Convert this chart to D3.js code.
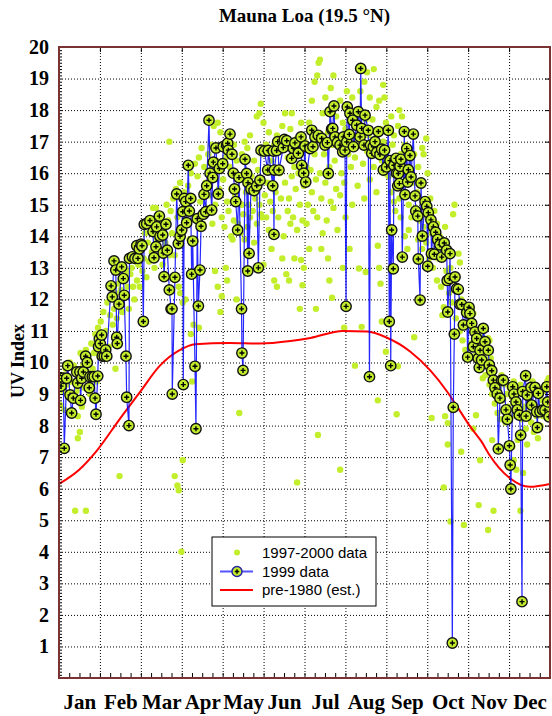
<!DOCTYPE html>
<html>
<head>
<meta charset="utf-8">
<script src="https://cdn.jsdelivr.net/npm/d3@7"></script>
<style>
  body { margin: 0; background: #fff; }
  svg { display: block; }
  .grid line { stroke: #000; stroke-dasharray: 1,2; }
  .grid path { display: none; }
</style>
</head>
<body>
<svg width="552" height="716"></svg>
<script>
// month names and y tick labels
var months = ['Jan','Feb','Mar','Apr','May','Jun','Jul','Aug','Sep','Oct','Nov','Dec'];
var yTicks = [1,2,3,4,5,6,7,8,9,10,11,12,13,14,15,16,17,18,19,20];

// 1997-2000 daily UV index maxima [day of year, UV index]
var data9700 = [
  [1,8.65],[2,9.6],[3,9.1],[4,8.5],[5,9.8],[6,9.3],[7,8.9],[8,10.0],[9,9.4],[10,9.0],[11,9.9],[12,8.8],[12,5.3],[13,9.1],[14,7.6],[14,8.3],[15,9.6],[15.5,7.8],[16,10.3],[17,8.6],[18,9.9],[19,9.2],[20,10.4],[20,5.3],[21,9.7],[22,10.1],[23,9.0],[24,10.6],[25,9.8],[26,10.3],[27,10.9],[28,9.4],[29,11.1],[30,10.2],
  [31,11.3],[32,10.6],[33,11.6],[34,10.9],[35,11.0],[36,11.9],[37,10.5],[38,11.5],[39,12.0],[40,11.2],[41,11.7],[42,12.2],[42,9.8],[43,11.4],[44,12.5],[45,6.4],[45,11.9],[46,12.3],[47,11.6],[48,12.7],[49,12.1],[50,12.9],[51,12.4],[52,11.7],[53,12.8],[54,13.0],[55,12.4],[56,12.0],[57,13.2],[58,12.6],
  [59,13.1],[60,12.4],[61,13.6],[62,12.9],[63,13.3],[64,14.1],[65,12.7],[66,13.8],[67,13.2],[68,14.3],[69,13.5],[70,14.9],[71,13.0],[72,14.9],[73,13.9],[74,14.4],[75,13.6],[76,14.7],[77,13.1],[78,14.2],[79,13.8],[80,15.0],[81,14.5],[82,17.0],[82,13.4],[83,14.8],[84,9.0],[84,14.1],[85,15.2],[86,13.4],[86,6.4],[87,15.5],[88,6.1],[88,14.6],[89,12.4],[89,5.95],[90,15.7],[90,12.2],
  [91,4.0],[92,6.9],[91,14.3],[92,11.9],[93,15.4],[94,12.0],[95,14.8],[96,15.6],[97,13.9],[98,10.9],[98,16.0],[99,9.4],[100,15.2],[100,11.2],[101,16.3],[102,9.9],[102,14.6],[103,15.9],[104,11.1],[104,16.5],[105,15.1],[106,16.8],[107,14.4],[108,16.2],[109,15.7],[110,14.9],[111,16.6],[112,15.3],[113,16.9],[114,14.4],[115,17.5],[116,15.0],[116,12.9],[117,16.4],[118,17.6],[118,12.4],[119,15.5],[120,11.6],[120,17.3],
  [121,14.6],[121,12.1],[122,15.8],[123,14.3],[124,13.0],[124,16.5],[125,12.6],[125,15.1],[126,14.8],[127,16.2],[128,14.0],[128,15.5],[129,13.9],[130,16.9],[130,14.5],[131,15.3],[132,12.0],[132,16.4],[133,14.4],[134,8.4],[134,15.8],[135,14.1],[136,16.6],[136,15.0],[137,14.7],[138,17.0],[138,13.9],[139,15.4],[140,14.3],[140,16.8],[141,15.0],[142,17.2],[142,14.6],[143,15.9],[144,14.8],[145,16.4],[145,13.8],[146,15.2],[147,17.8],[147,14.4],[148,16.1],[149,15.0],[149,17.9],[150,14.7],[150,18.2],[151,16.6],[151,14.6],
  [152,17.6],[152,13.1],[153,15.3],[154,14.6],[154,16.9],[155,15.7],[156,14.2],[156,17.3],[157,15.1],[158,16.4],[158,13.6],[159,14.8],[160,12.6],[160,16.9],[161,15.4],[162,12.4],[162,17.2],[163,14.6],[164,16.0],[165,15.2],[166,13.3],[166,17.5],[167,14.0],[168,17.9],[168,15.7],[169,12.8],[170,14.8],[170,16.5],[171,12.6],[171,15.2],[172,14.4],[172,17.4],[173,17.9],[173,15.9],[174,14.6],[175,16.2],[175,13.3],[176,15.5],[177,17.1],[177,14.2],[177,6.2],[178,16.0],[179,15.0],[179,11.7],[180,13.25],[180,17.6],[181,12.45],[181,14.5],
  [182,15.6],[182,13.0],[183,17.0],[184,16.2],[184,14.4],[185,15.0],[186,17.6],[186,13.6],[187,16.1],[188,15.4],[188,18.3],[189,14.8],[190,16.6],[190,18.9],[191,15.8],[191,11.7],[192,19.1],[192,14.6],[192.5,7.7],[193,17.2],[193,19.5],[194,16.0],[194,19.6],[195,15.2],[195,13.6],[196,17.9],[196,14.1],[197,16.6],[198,15.7],[198,18.4],[199,14.5],[200,17.3],[200,13.3],[201,16.2],[201,12.6],[202,15.1],[202,18.7],[203,16.9],[203,12.05],[204,19.1],[204,14.9],[205,16.4],[206,15.5],[206,17.8],[207,14.2],[208,16.9],[209,6.6],[209,18.3],[209,15.3],[210,16.0],[211,13.0],[211,17.6],[212,15.7],[212,11.1],
  [213,17.4],[213,14.6],[214,18.6],[215,16.6],[216,17.9],[216,13.6],[217,16.2],[218,18.4],[218,15.0],[219,17.1],[220,9.9],[220,16.5],[221,18.0],[222,15.6],[222,17.5],[223,12.98],[224,16.9],[224,18.6],[225,11.13],[225,17.3],[226,16.3],[227,18.9],[227,15.2],[228,17.7],[228,12.87],[229,16.7],[229,19.2],[230,17.2],[231,15.8],[231,18.4],[232,16.9],[233,17.7],[234,19.3],[234,16.2],[235,17.1],[236,18.1],[236,15.4],[237,13.7],[237,16.8],[237,8.8],[238,18.3],[238,13.0],[239,17.4],[239,12.5],[240,16.4],[240,11.3],[241,18.8],[241,17.0],[242,16.0],[242,18.4],[243,10.34],[243,17.6],
  [244,16.8],[245,17.4],[245,15.9],[246,16.3],[247,17.8],[247,15.4],[248,16.9],[249,15.1],[249,17.2],[250,14.8],[250,16.4],[251,8.36],[251,15.9],[252,9.88],[252,17.5],[253,15.2],[253,18.0],[254,16.6],[254,14.6],[255,17.8],[255,15.6],[256,16.2],[257,14.0],[257,16.9],[258,15.3],[259,13.6],[259,16.5],[260,15.0],[260,14.2],[261,16.1],[262,14.6],[263,15.7],[264,10.8],[264,16.6],[265,14.9],[266,15.4],[267,13.9],[267,16.2],[268,14.5],[269,15.6],[270,13.6],[270,16.8],[271,16.6],[271,14.3],[272,15.1],[273,17.1],[273,13.8],
  [274,16.0],[274,14.6],[275,13.3],[276,15.2],[277,8.24],[277,14.1],[278,13.0],[279,14.8],[280,13.6],[281,12.6],[281,14.4],[282,13.3],[283,14.0],[284,12.4],[285,11.5],[285,13.6],[286,11.75],[286,6.04],[287,14.3],[287,8.3],[288,12.9],[289,8.08],[289,7.4],[289,13.4],[290,12.2],[291,4.96],[291,13.0],[292,11.9],[293,14.7],[293,12.6],[294,15.0],[295,11.4],[296,12.3],[297,13.45],[298,13.17],[298,11.0],[299,7.17],[299,12.0],[300,10.7],[301,4.85],[301,11.6],[302,10.4],[303,11.2],[304,10.1],
  [305,11.3],[306,10.6],[307,11.7],[308,11.55],[308,7.9],[309,10.2],[310,8.33],[310,11.0],[311,9.8],[312,5.48],[312,10.5],[313,6.9],[313,9.9],[314,10.8],[315,9.5],[316,10.3],[317,9.6],[318,10.1],[319,10.77],[319,4.69],[320,10.7],[320,9.3],[321,10.14],[322,7.54],[322,9.0],[323,5.3],[323,9.8],[324,8.7],[325,9.4],[326,8.4],[327,9.1],[328,8.2],[329,9.6],[330,8.8],[331,9.3],[332,8.1],[333,9.0],[334,8.6],
  [335,9.2],[336,8.3],[337,7.33],[337,8.9],[338,6.9],[338,9.4],[339,8.5],[340,6.6],[340,9.1],[341,7.54],[342,8.7],[343,5.3],[343,9.3],[344,8.2],[345,6.5],[345,9.0],[346,8.6],[347,7.9],[347,9.5],[348,7.4],[348,8.4],[349,9.2],[350,8.8],[351,8.1],[352,9.4],[353,7.8],[353,8.7],[354,9.1],[355,8.3],[356,7.6],[356,9.2],[357,8.6],[358,8.0],[358,9.0],[359,8.8],[360,8.3],[361,9.1],[362,8.7],[363,9.4],[364,8.5],[364,9.5]
];

// 1999 data [day of year, UV index]
var data1999 = [
  [1.5,9.25],[3.2,9.5],[3.9,7.28],[5.7,9.5],[6.5,9.9],[8.2,8.97],[9.4,8.4],[10.6,8.87],[13.2,9.7],[13.9,9.35],[15.6,9.7],[16.0,8.8],[16.9,9.5],[18.1,9.7],[19.8,10.2],[21.0,10.0],[22.5,9.2],[23.0,9.55],[24.8,9.55],[26.2,9.55],[26.8,8.87],[27.5,8.36],[28.8,9.57],[29.4,10.5],[30.0,10.75],[30.7,10.6],
  [31.7,10.87],[32.2,10.2],[33.7,10.2],[34.7,10.4],[35.5,10.2],[38.7,12.43],[39.6,12.08],[40.9,13.22],[42.2,12.93],[42.9,10.8],[43.3,10.6],[44.6,11.85],[46.6,13.03],[47.8,12.66],[48.5,12.13],[49.8,10.2],[50.3,8.9],[52.0,8.0],[52.4,13.3],[54.6,13.35],[56.5,13.3],[57.8,13.7],[58.7,13.3],
  [59.7,13.6],[61.0,13.75],[61.7,13.7],[62.7,11.3],[63.4,14.38],[65.2,14.4],[67.6,14.5],[69.9,14.15],[70.6,13.32],[72.1,13.67],[72.6,14.3],[74.6,14.64],[75.1,14.0],[77.1,14.04],[77.5,13.47],[78.1,12.72],[79.5,14.38],[80.5,13.56],[82.0,12.3],[83.3,11.7],[84.0,11.7],[84.2,9.0],[86.2,12.7],[87.5,15.34],[88.7,13.77],
  [90.0,14.0],[91.2,14.2],[92.0,14.78],[92.4,9.3],[93.1,15.2],[94.2,15.1],[94.9,14.43],[96.1,16.25],[96.9,14.8],[97.9,15.2],[98.6,12.8],[99.4,13.85],[101.1,9.88],[101.8,7.9],[102.8,14.56],[103.6,11.79],[104.8,12.93],[105.6,14.32],[107.3,14.7],[107.8,15.33],[109.1,14.78],[109.8,15.6],[111.5,17.68],[112.3,16.0],[113.5,14.83],[114.3,15.86],[114.7,16.35],[116.7,16.8],[118.4,15.34],[119.2,16.15],
  [121.7,16.3],[122.1,16.84],[124.7,16.89],[125.4,16.95],[125.9,16.73],[127.1,17.24],[128.6,16.6],[129.6,16.0],[130.5,15.5],[131.4,15.1],[132.8,14.2],[133.8,15.86],[135.7,11.7],[136.0,10.3],[136.8,9.75],[138.3,16.44],[139.5,15.99],[140.3,12.9],[140.5,15.7],[141.3,13.46],[142.7,15.5],[145.0,15.45],[147.0,15.6],[148.2,13.0],[149.4,15.78],[150.2,16.73],
  [152.6,16.7],[155.2,16.1],[155.6,16.72],[158.9,15.6],[159.3,16.7],[159.8,14.06],[160.1,16.1],[161.8,16.72],[162.6,17.0],[163.5,16.1],[166.7,16.81],[167.5,17.07],[169.3,17.03],[173.0,16.47],[174.2,16.79],[175.4,16.96],[177.9,16.63],[179.9,17.15],[180.4,16.25],
  [181.9,16.0],[182.9,16.86],[183.4,15.72],[186.6,16.78],[187.9,17.36],[188.8,16.84],[190.3,17.15],[192.8,17.2],[195.3,17.1],[197.7,16.89],[199.5,16.97],[200.2,15.99],[201.5,17.95],[202.7,17.4],[203.5,17.42],[204.4,18.13],[205.2,17.15],[206.9,16.97],[208.9,16.89],[210.9,16.68],[211.4,17.15],
  [212.6,16.73],[213.4,11.78],[213.9,16.99],[214.3,18.1],[215.8,17.23],[216.3,17.9],[218.3,17.68],[218.9,16.84],[221.3,17.52],[222.5,17.95],[223.8,17.15],[224.3,19.32],[225.0,17.42],[226.7,16.89],[227.5,17.84],[229.9,17.36],[230.8,9.55],[231.6,16.89],[232.5,16.63],[233.7,16.84],[234.9,17.0],[236.2,16.66],[237.4,17.32],[238.6,16.59],[239.9,16.76],[241.1,16.1],[242.0,16.73],
  [243.6,16.2],[244.8,17.36],[245.5,11.3],[246.1,16.4],[246.6,9.9],[247.3,14.2],[248.5,12.97],[249.0,16.25],[250.5,16.47],[251.0,16.0],[251.8,15.6],[252.2,15.99],[253.0,15.67],[253.5,16.22],[254.2,16.44],[255.2,13.34],[256.7,17.32],[257.2,15.32],[258.5,16.78],[259.2,15.72],[259.7,16.11],[260.9,16.56],[261.7,15.88],[263.4,17.24],[264.7,15.28],[265.2,14.8],[266.7,14.64],[267.1,13.28],[268.4,11.98],[269.1,15.69],[270.1,14.01],[272.1,15.1],
  [273.4,14.95],[274.1,13.05],[274.5,14.75],[276.5,14.52],[276.9,13.45],[278.3,14.3],[279.0,13.43],[280.0,14.13],[281.5,13.9],[283.2,13.73],[284.5,13.34],[286.4,13.79],[288.2,13.56],[288.6,12.6],[289.0,11.6],[290.2,12.66],[290.7,13.45],[292.4,1.11],[293.1,8.58],[293.9,10.9],[294.4,12.71],[295.6,12.34],[296.8,12.32],[298.1,11.84],[299.4,11.84],[300.6,11.19],[303.1,11.58],[303.8,10.17],
  [304.8,11.75],[305.5,11.55],[306.8,11.24],[308.0,10.5],[309.2,10.97],[310.5,10.76],[311.7,10.13],[312.4,9.84],[313.0,10.39],[314.2,10.08],[315.4,11.08],[316.7,10.66],[319.1,10.39],[319.9,9.92],[321.7,9.74],[322.9,9.44],[324.1,9.2],[325.8,9.0],[326.6,7.26],[327.8,8.87],[329.1,9.44],[330.3,9.44],[332.3,8.5],[333.3,8.2],
  [334.8,7.36],[335.4,6.75],[335.9,5.99],[337.3,9.23],[338.2,9.0],[339.7,8.75],[340.7,8.5],[342.2,8.33],[343.2,7.7],[344.2,2.42],[344.7,9.08],[346.9,9.58],[347.2,8.3],[348.1,8.97],[350.9,9.21],[351.4,8.65],[353.9,9.21],[355.1,8.44],[355.6,7.94],[356.3,9.02],[357.6,8.44],[359.6,8.49],[361.3,8.49],[362.6,9.23],[363.3,8.75],[364.3,8.28]
];

// pre-1980 estimate [day of year, UV index]
var pre1980 = [
  [0,6.15],[15,6.6],[28,7.2],[45,8.2],[60,9.05],[75,9.9],[90,10.4],[101,10.58],[127,10.62],[149,10.6],[172,10.68],[187,10.78],[211,11.0],[229,10.98],[243,10.8],[261,10.35],[276,9.75],[289,9.05],[296,8.6],[306,7.95],[314,7.5],[320,7.07],[335,6.34],[350,6.06],[365,6.15]
];

var svg = d3.select('svg');
var plotL = 59, plotR = 550, plotT = 47, plotB = 678;
var width = plotR - plotL, height = plotB - plotT;

var x = d3.scaleLinear().domain([0, 365]).range([plotL, plotR]);
var y = d3.scaleLinear().domain([0, 20]).range([plotB, plotT]);

var monthLen = 365 / 12;
var monthStarts = d3.range(1, 12).map(i => i * monthLen);
var serif = '"Liberation Serif", "Times New Roman", serif';

// grid lines
svg.append('g')
  .attr('class', 'grid')
  .attr('transform', `translate(${plotL},0)`)
  .call(d3.axisLeft(y).tickValues(d3.range(1, 20)).tickSize(-width).tickFormat(''));

svg.append('g')
  .attr('class', 'grid')
  .attr('transform', `translate(0,${plotB})`)
  .call(d3.axisBottom(x).tickValues(monthStarts).tickSize(-height).tickFormat(''));

svg.append('clipPath').attr('id', 'plot')
  .append('rect').attr('x', plotL).attr('y', plotT).attr('width', width).attr('height', height);

var plot = svg.append('g').attr('clip-path', 'url(#plot)');

// 1997-2000 dots
plot.append('g')
  .selectAll('circle')
  .data(data9700)
  .enter()
  .append('circle')
  .attr('cx', d => x(d[0]))
  .attr('cy', d => y(d[1]))
  .attr('r', 3.2)
  .attr('fill', '#c3ee2c');

// pre-1980 curve
plot.append('path')
  .datum(pre1980)
  .attr('fill', 'none')
  .attr('stroke', '#ff0000')
  .attr('stroke-width', 2)
  .attr('d', d3.line().x(d => x(d[0])).y(d => y(d[1])).curve(d3.curveMonotoneX));

// 1999 line
plot.append('path')
  .datum(data1999)
  .attr('fill', 'none')
  .attr('stroke', '#0000ff')
  .attr('stroke-opacity', 0.85)
  .attr('stroke-width', 1.2)
  .attr('d', d3.line().x(d => x(d[0])).y(d => y(d[1])));

// 1999 markers
var marks = plot.append('g')
  .selectAll('g')
  .data(data1999)
  .enter()
  .append('g')
  .attr('transform', d => `translate(${x(d[0])},${y(d[1])})`);

marks.append('circle')
  .attr('r', 5.2)
  .attr('fill', '#c3ee2c')
  .attr('stroke', '#111')
  .attr('stroke-width', 1.4);

marks.append('path')
  .attr('d', 'M-2.5,0H2.5M0,-2.5V2.5')
  .attr('stroke', '#000')
  .attr('stroke-width', 1.4);

// axis ticks
var yMinor = svg.append('g')
  .attr('transform', `translate(${plotL},0)`)
  .call(d3.axisLeft(y).tickValues(d3.range(1, 200).map(i => i / 10)).tickSize(-3).tickFormat(''));
yMinor.select('.domain').remove();

var yRight = svg.append('g')
  .attr('transform', `translate(${plotR},0)`)
  .call(d3.axisRight(y).tickValues(d3.range(1, 20)).tickSize(-5).tickFormat(''));
yRight.select('.domain').remove();

var xMinor = svg.append('g')
  .attr('transform', `translate(0,${plotB})`)
  .call(d3.axisBottom(x).tickValues(d3.range(1, 48).map(i => i * monthLen / 4)).tickSize(-5).tickFormat(''));
xMinor.select('.domain').remove();

var xTop = svg.append('g')
  .attr('transform', `translate(0,${plotT})`)
  .call(d3.axisTop(x).tickValues(monthStarts).tickSize(-5).tickFormat(''));
xTop.select('.domain').remove();

// frame
svg.append('rect')
  .attr('x', plotL).attr('y', plotT)
  .attr('width', width).attr('height', height)
  .attr('fill', 'none')
  .attr('stroke', '#7a3232')
  .attr('stroke-width', 2);

// tick labels
var yLabels = svg.append('g')
  .attr('transform', `translate(${plotL},0)`)
  .call(d3.axisLeft(y).tickValues(yTicks).tickSize(0).tickPadding(10));
yLabels.select('.domain').remove();
yLabels.selectAll('text')
  .attr('font-family', serif)
  .attr('font-weight', 'bold')
  .attr('font-size', 20)
  .attr('fill', '#000');

var xLabels = svg.append('g')
  .attr('transform', `translate(0,${plotB})`)
  .call(d3.axisBottom(x)
    .tickValues(months.map((m, i) => (i + 0.5) * monthLen))
    .tickFormat((d, i) => months[i])
    .tickSize(0).tickPadding(16));
xLabels.select('.domain').remove();
xLabels.selectAll('text')
  .attr('font-family', serif)
  .attr('font-weight', 'bold')
  .attr('font-size', 21)
  .attr('fill', '#000');

// title and axis label
svg.append('text')
  .attr('x', (plotL + plotR) / 2)
  .attr('y', 22)
  .attr('text-anchor', 'middle')
  .attr('font-family', serif)
  .attr('font-weight', 'bold')
  .attr('font-size', 19)
  .text('Mauna Loa (19.5 °N)');

svg.append('text')
  .attr('transform', 'translate(24,361) rotate(-90)')
  .attr('text-anchor', 'middle')
  .attr('font-family', serif)
  .attr('font-weight', 'bold')
  .attr('font-size', 18)
  .text('UV Index');

// legend
var legend = svg.append('g');
legend.append('rect')
  .attr('x', 212).attr('y', 537)
  .attr('width', 164).attr('height', 69)
  .attr('fill', '#fff')
  .attr('stroke', '#000')
  .attr('stroke-width', 1);

var rows = [552.5, 571.5, 590];
var labels = ['1997-2000 data', '1999 data', 'pre-1980 (est.)'];

legend.append('circle')
  .attr('cx', 237).attr('cy', rows[0]).attr('r', 3)
  .attr('fill', '#c3ee2c');

legend.append('line')
  .attr('x1', 220).attr('x2', 253).attr('y1', rows[1]).attr('y2', rows[1])
  .attr('stroke', '#5555ff').attr('stroke-width', 2);
legend.append('circle')
  .attr('cx', 237).attr('cy', rows[1]).attr('r', 5)
  .attr('fill', '#c3ee2c').attr('stroke', '#2020a0').attr('stroke-width', 1.4);
legend.append('path')
  .attr('d', `M234.8,${rows[1]}H239.2M237,${rows[1] - 2.2}V${rows[1] + 2.2}`)
  .attr('stroke', '#000').attr('stroke-width', 1.4);

legend.append('line')
  .attr('x1', 220).attr('x2', 253).attr('y1', rows[2]).attr('y2', rows[2])
  .attr('stroke', '#ff0000').attr('stroke-width', 2);

legend.selectAll('.lbl')
  .data(labels)
  .enter()
  .append('text')
  .attr('class', 'lbl')
  .attr('x', 262)
  .attr('y', (d, i) => rows[i] + 5)
  .attr('font-family', '"Liberation Sans", Arial, sans-serif')
  .attr('font-size', 15)
  .text(d => d);
</script>
</body>
</html>
